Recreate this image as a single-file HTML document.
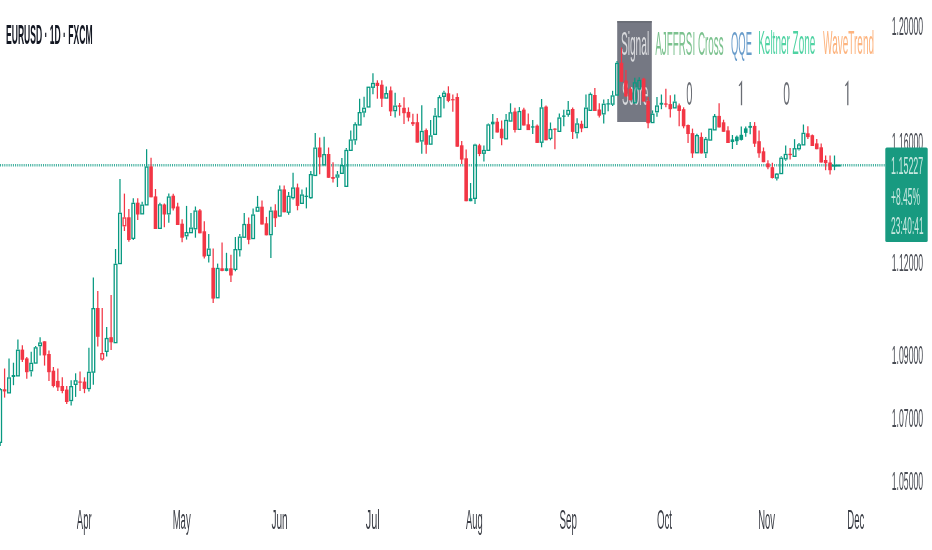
<!DOCTYPE html>
<html><head><meta charset="utf-8"><style>
html,body{margin:0;padding:0;background:#fff;width:932px;height:550px;overflow:hidden}
svg{display:block;filter:blur(0.3px)} text{will-change:transform}
</style></head><body>
<svg width="932" height="550" viewBox="0 0 932 550">
<rect width="932" height="550" fill="#ffffff"/>
<line x1="0" y1="165.3" x2="885" y2="165.3" stroke="#089981" stroke-width="2.4" stroke-opacity="0.78" stroke-dasharray="1.05 1.1"/>
<rect x="617.2" y="21.2" width="34.6" height="100.8" fill="#757883"/>
<rect x="617.2" y="21.2" width="34.6" height="1.3" fill="#62656e"/>
<g font-family="Liberation Sans, sans-serif"><text transform="translate(620.89,54.80) scale(0.3061,1)" font-size="33.29" font-weight="normal" fill="#d9dadd">Signal</text>
<text transform="translate(622.00,105.30) scale(0.3056,1)" font-size="32.86" font-weight="normal" fill="#d9dadd">Score</text></g>
<line x1="0.16" y1="388.00" x2="0.16" y2="389.00" stroke="#089981" stroke-width="1.25"/>
<line x1="0.16" y1="443.00" x2="0.16" y2="446.00" stroke="#089981" stroke-width="1.25"/>
<rect x="-1.19" y="389.65" width="2.70" height="52.70" fill="none" stroke="#089981" stroke-width="1.3"/>
<line x1="4.59" y1="368.50" x2="4.59" y2="397.60" stroke="#f23645" stroke-width="1.25"/>
<rect x="2.79" y="389.30" width="3.60" height="2.10" fill="#f23645"/>
<line x1="9.03" y1="358.40" x2="9.03" y2="377.30" stroke="#089981" stroke-width="1.25"/>
<rect x="7.68" y="377.95" width="2.70" height="14.90" fill="none" stroke="#089981" stroke-width="1.3"/>
<line x1="13.47" y1="362.70" x2="13.47" y2="385.20" stroke="#089981" stroke-width="1.25"/>
<rect x="11.67" y="375.00" width="3.60" height="2.00" fill="#089981"/>
<line x1="17.91" y1="339.50" x2="17.91" y2="349.60" stroke="#089981" stroke-width="1.25"/>
<rect x="16.56" y="350.25" width="2.70" height="25.60" fill="none" stroke="#089981" stroke-width="1.3"/>
<line x1="22.35" y1="345.30" x2="22.35" y2="362.00" stroke="#f23645" stroke-width="1.25"/>
<rect x="20.55" y="349.60" width="3.60" height="10.20" fill="#f23645"/>
<line x1="26.78" y1="356.90" x2="26.78" y2="378.70" stroke="#f23645" stroke-width="1.25"/>
<rect x="24.98" y="358.40" width="3.60" height="13.80" fill="#f23645"/>
<line x1="31.22" y1="351.80" x2="31.22" y2="362.70" stroke="#089981" stroke-width="1.25"/>
<line x1="31.22" y1="371.40" x2="31.22" y2="376.50" stroke="#089981" stroke-width="1.25"/>
<rect x="29.87" y="363.35" width="2.70" height="7.40" fill="none" stroke="#089981" stroke-width="1.3"/>
<line x1="35.66" y1="346.00" x2="35.66" y2="347.20" stroke="#089981" stroke-width="1.25"/>
<rect x="34.31" y="347.85" width="2.70" height="15.20" fill="none" stroke="#089981" stroke-width="1.3"/>
<line x1="40.10" y1="337.30" x2="40.10" y2="342.40" stroke="#089981" stroke-width="1.25"/>
<line x1="40.10" y1="346.30" x2="40.10" y2="355.40" stroke="#089981" stroke-width="1.25"/>
<rect x="38.75" y="343.05" width="2.70" height="2.60" fill="none" stroke="#089981" stroke-width="1.3"/>
<line x1="44.54" y1="341.30" x2="44.54" y2="365.60" stroke="#f23645" stroke-width="1.25"/>
<rect x="42.74" y="341.30" width="3.60" height="14.10" fill="#f23645"/>
<line x1="48.97" y1="350.40" x2="48.97" y2="380.90" stroke="#f23645" stroke-width="1.25"/>
<rect x="47.17" y="354.00" width="3.60" height="18.20" fill="#f23645"/>
<line x1="53.41" y1="367.00" x2="53.41" y2="387.40" stroke="#f23645" stroke-width="1.25"/>
<rect x="51.61" y="370.70" width="3.60" height="15.30" fill="#f23645"/>
<line x1="57.85" y1="368.50" x2="57.85" y2="391.00" stroke="#f23645" stroke-width="1.25"/>
<rect x="56.05" y="380.90" width="3.60" height="6.50" fill="#f23645"/>
<line x1="62.29" y1="377.30" x2="62.29" y2="393.20" stroke="#f23645" stroke-width="1.25"/>
<rect x="60.49" y="386.00" width="3.60" height="5.00" fill="#f23645"/>
<line x1="66.73" y1="386.00" x2="66.73" y2="404.00" stroke="#f23645" stroke-width="1.25"/>
<rect x="64.93" y="389.60" width="3.60" height="12.40" fill="#f23645"/>
<line x1="71.16" y1="380.20" x2="71.16" y2="386.00" stroke="#089981" stroke-width="1.25"/>
<line x1="71.16" y1="401.20" x2="71.16" y2="405.60" stroke="#089981" stroke-width="1.25"/>
<rect x="69.81" y="386.65" width="2.70" height="13.90" fill="none" stroke="#089981" stroke-width="1.3"/>
<line x1="75.60" y1="373.30" x2="75.60" y2="380.20" stroke="#089981" stroke-width="1.25"/>
<line x1="75.60" y1="385.00" x2="75.60" y2="396.90" stroke="#089981" stroke-width="1.25"/>
<rect x="74.25" y="380.85" width="2.70" height="3.50" fill="none" stroke="#089981" stroke-width="1.3"/>
<line x1="80.04" y1="371.40" x2="80.04" y2="391.00" stroke="#f23645" stroke-width="1.25"/>
<rect x="78.24" y="381.50" width="3.60" height="1.20" fill="#f23645"/>
<line x1="84.48" y1="377.30" x2="84.48" y2="393.20" stroke="#f23645" stroke-width="1.25"/>
<rect x="82.68" y="381.60" width="3.60" height="7.30" fill="#f23645"/>
<line x1="88.92" y1="347.70" x2="88.92" y2="371.70" stroke="#089981" stroke-width="1.25"/>
<line x1="88.92" y1="389.20" x2="88.92" y2="391.40" stroke="#089981" stroke-width="1.25"/>
<rect x="87.57" y="372.35" width="2.70" height="16.20" fill="none" stroke="#089981" stroke-width="1.3"/>
<line x1="93.35" y1="277.50" x2="93.35" y2="308.00" stroke="#089981" stroke-width="1.25"/>
<line x1="93.35" y1="372.80" x2="93.35" y2="384.80" stroke="#089981" stroke-width="1.25"/>
<rect x="92.00" y="308.65" width="2.70" height="63.50" fill="none" stroke="#089981" stroke-width="1.3"/>
<line x1="97.79" y1="291.00" x2="97.79" y2="346.60" stroke="#f23645" stroke-width="1.25"/>
<rect x="95.99" y="308.00" width="3.60" height="28.80" fill="#f23645"/>
<line x1="102.23" y1="308.00" x2="102.23" y2="353.00" stroke="#f23645" stroke-width="1.25"/>
<line x1="102.23" y1="359.70" x2="102.23" y2="360.80" stroke="#f23645" stroke-width="1.25"/>
<rect x="100.88" y="353.65" width="2.70" height="5.40" fill="none" stroke="#f23645" stroke-width="1.3"/>
<line x1="106.67" y1="327.00" x2="106.67" y2="337.90" stroke="#089981" stroke-width="1.25"/>
<line x1="106.67" y1="352.00" x2="106.67" y2="356.50" stroke="#089981" stroke-width="1.25"/>
<rect x="105.32" y="338.55" width="2.70" height="12.80" fill="none" stroke="#089981" stroke-width="1.3"/>
<line x1="111.11" y1="295.00" x2="111.11" y2="350.00" stroke="#f23645" stroke-width="1.25"/>
<rect x="109.31" y="337.20" width="3.60" height="5.10" fill="#f23645"/>
<line x1="115.54" y1="249.00" x2="115.54" y2="263.70" stroke="#089981" stroke-width="1.25"/>
<rect x="114.19" y="264.35" width="2.70" height="78.30" fill="none" stroke="#089981" stroke-width="1.3"/>
<line x1="119.98" y1="179.10" x2="119.98" y2="212.70" stroke="#089981" stroke-width="1.25"/>
<rect x="118.63" y="213.35" width="2.70" height="50.20" fill="none" stroke="#089981" stroke-width="1.3"/>
<line x1="124.42" y1="193.60" x2="124.42" y2="217.30" stroke="#f23645" stroke-width="1.25"/>
<line x1="124.42" y1="226.40" x2="124.42" y2="231.00" stroke="#f23645" stroke-width="1.25"/>
<rect x="123.07" y="217.95" width="2.70" height="7.80" fill="none" stroke="#f23645" stroke-width="1.3"/>
<line x1="128.86" y1="209.00" x2="128.86" y2="241.80" stroke="#f23645" stroke-width="1.25"/>
<rect x="127.06" y="217.30" width="3.60" height="22.70" fill="#f23645"/>
<line x1="133.30" y1="198.20" x2="133.30" y2="202.70" stroke="#089981" stroke-width="1.25"/>
<line x1="133.30" y1="239.00" x2="133.30" y2="240.00" stroke="#089981" stroke-width="1.25"/>
<rect x="131.95" y="203.35" width="2.70" height="35.00" fill="none" stroke="#089981" stroke-width="1.3"/>
<line x1="137.73" y1="198.20" x2="137.73" y2="220.00" stroke="#f23645" stroke-width="1.25"/>
<rect x="135.93" y="202.70" width="3.60" height="11.80" fill="#f23645"/>
<line x1="142.17" y1="201.80" x2="142.17" y2="204.50" stroke="#089981" stroke-width="1.25"/>
<rect x="140.82" y="205.15" width="2.70" height="8.70" fill="none" stroke="#089981" stroke-width="1.3"/>
<line x1="146.61" y1="149.20" x2="146.61" y2="166.40" stroke="#089981" stroke-width="1.25"/>
<rect x="145.26" y="167.05" width="2.70" height="37.80" fill="none" stroke="#089981" stroke-width="1.3"/>
<line x1="151.05" y1="157.80" x2="151.05" y2="197.30" stroke="#f23645" stroke-width="1.25"/>
<rect x="149.25" y="166.40" width="3.60" height="30.90" fill="#f23645"/>
<line x1="155.49" y1="189.00" x2="155.49" y2="229.00" stroke="#f23645" stroke-width="1.25"/>
<rect x="153.69" y="196.40" width="3.60" height="32.60" fill="#f23645"/>
<line x1="159.92" y1="202.70" x2="159.92" y2="204.20" stroke="#089981" stroke-width="1.25"/>
<rect x="158.57" y="204.85" width="2.70" height="23.50" fill="none" stroke="#089981" stroke-width="1.3"/>
<line x1="164.36" y1="203.60" x2="164.36" y2="227.30" stroke="#f23645" stroke-width="1.25"/>
<rect x="162.56" y="204.50" width="3.60" height="10.00" fill="#f23645"/>
<line x1="168.80" y1="193.60" x2="168.80" y2="196.40" stroke="#089981" stroke-width="1.25"/>
<line x1="168.80" y1="214.50" x2="168.80" y2="222.70" stroke="#089981" stroke-width="1.25"/>
<rect x="167.45" y="197.05" width="2.70" height="16.80" fill="none" stroke="#089981" stroke-width="1.3"/>
<line x1="173.24" y1="193.80" x2="173.24" y2="210.40" stroke="#f23645" stroke-width="1.25"/>
<rect x="171.44" y="195.70" width="3.60" height="12.70" fill="#f23645"/>
<line x1="177.68" y1="202.70" x2="177.68" y2="225.00" stroke="#f23645" stroke-width="1.25"/>
<rect x="175.88" y="206.50" width="3.60" height="18.50" fill="#f23645"/>
<line x1="182.11" y1="219.30" x2="182.11" y2="242.20" stroke="#f23645" stroke-width="1.25"/>
<rect x="180.31" y="223.70" width="3.60" height="14.00" fill="#f23645"/>
<line x1="186.55" y1="205.90" x2="186.55" y2="232.00" stroke="#089981" stroke-width="1.25"/>
<line x1="186.55" y1="236.40" x2="186.55" y2="239.60" stroke="#089981" stroke-width="1.25"/>
<rect x="185.20" y="232.65" width="2.70" height="3.10" fill="none" stroke="#089981" stroke-width="1.3"/>
<line x1="190.99" y1="212.90" x2="190.99" y2="227.50" stroke="#089981" stroke-width="1.25"/>
<rect x="189.64" y="228.15" width="2.70" height="4.50" fill="none" stroke="#089981" stroke-width="1.3"/>
<line x1="195.43" y1="206.50" x2="195.43" y2="210.40" stroke="#089981" stroke-width="1.25"/>
<line x1="195.43" y1="229.40" x2="195.43" y2="237.70" stroke="#089981" stroke-width="1.25"/>
<rect x="194.08" y="211.05" width="2.70" height="17.70" fill="none" stroke="#089981" stroke-width="1.3"/>
<line x1="199.87" y1="209.00" x2="199.87" y2="233.30" stroke="#f23645" stroke-width="1.25"/>
<rect x="198.07" y="210.40" width="3.60" height="22.90" fill="#f23645"/>
<line x1="204.30" y1="221.20" x2="204.30" y2="258.60" stroke="#f23645" stroke-width="1.25"/>
<rect x="202.50" y="231.30" width="3.60" height="25.20" fill="#f23645"/>
<line x1="208.74" y1="233.90" x2="208.74" y2="248.50" stroke="#089981" stroke-width="1.25"/>
<line x1="208.74" y1="256.00" x2="208.74" y2="262.40" stroke="#089981" stroke-width="1.25"/>
<rect x="207.39" y="249.15" width="2.70" height="6.20" fill="none" stroke="#089981" stroke-width="1.3"/>
<line x1="213.18" y1="248.40" x2="213.18" y2="303.00" stroke="#f23645" stroke-width="1.25"/>
<rect x="211.38" y="267.80" width="3.60" height="30.80" fill="#f23645"/>
<line x1="217.62" y1="263.60" x2="217.62" y2="267.80" stroke="#089981" stroke-width="1.25"/>
<rect x="216.27" y="268.45" width="2.70" height="29.30" fill="none" stroke="#089981" stroke-width="1.3"/>
<line x1="222.06" y1="242.60" x2="222.06" y2="271.30" stroke="#f23645" stroke-width="1.25"/>
<rect x="220.26" y="268.30" width="3.60" height="2.60" fill="#f23645"/>
<line x1="226.49" y1="252.80" x2="226.49" y2="271.30" stroke="#089981" stroke-width="1.25"/>
<rect x="224.69" y="268.30" width="3.60" height="2.60" fill="#089981"/>
<line x1="230.93" y1="254.70" x2="230.93" y2="282.00" stroke="#f23645" stroke-width="1.25"/>
<rect x="229.13" y="268.30" width="3.60" height="7.20" fill="#f23645"/>
<line x1="235.37" y1="237.00" x2="235.37" y2="249.00" stroke="#089981" stroke-width="1.25"/>
<line x1="235.37" y1="270.00" x2="235.37" y2="271.30" stroke="#089981" stroke-width="1.25"/>
<rect x="234.02" y="249.65" width="2.70" height="19.70" fill="none" stroke="#089981" stroke-width="1.3"/>
<line x1="239.81" y1="234.00" x2="239.81" y2="236.50" stroke="#089981" stroke-width="1.25"/>
<line x1="239.81" y1="250.30" x2="239.81" y2="256.60" stroke="#089981" stroke-width="1.25"/>
<rect x="238.46" y="237.15" width="2.70" height="12.50" fill="none" stroke="#089981" stroke-width="1.3"/>
<line x1="244.25" y1="213.00" x2="244.25" y2="223.90" stroke="#089981" stroke-width="1.25"/>
<rect x="242.90" y="224.55" width="2.70" height="12.70" fill="none" stroke="#089981" stroke-width="1.3"/>
<line x1="248.68" y1="217.50" x2="248.68" y2="244.20" stroke="#f23645" stroke-width="1.25"/>
<rect x="246.88" y="223.90" width="3.60" height="15.90" fill="#f23645"/>
<line x1="253.12" y1="208.60" x2="253.12" y2="214.40" stroke="#089981" stroke-width="1.25"/>
<rect x="251.77" y="215.05" width="2.70" height="23.50" fill="none" stroke="#089981" stroke-width="1.3"/>
<line x1="257.56" y1="195.90" x2="257.56" y2="206.70" stroke="#089981" stroke-width="1.25"/>
<rect x="256.21" y="207.35" width="2.70" height="3.80" fill="none" stroke="#089981" stroke-width="1.3"/>
<line x1="262.00" y1="200.40" x2="262.00" y2="224.50" stroke="#f23645" stroke-width="1.25"/>
<rect x="260.20" y="206.70" width="3.60" height="17.80" fill="#f23645"/>
<line x1="266.44" y1="216.90" x2="266.44" y2="235.30" stroke="#f23645" stroke-width="1.25"/>
<rect x="264.64" y="223.30" width="3.60" height="12.00" fill="#f23645"/>
<line x1="270.87" y1="206.70" x2="270.87" y2="210.50" stroke="#089981" stroke-width="1.25"/>
<line x1="270.87" y1="235.30" x2="270.87" y2="258.00" stroke="#089981" stroke-width="1.25"/>
<rect x="269.52" y="211.15" width="2.70" height="23.50" fill="none" stroke="#089981" stroke-width="1.3"/>
<line x1="275.31" y1="204.20" x2="275.31" y2="227.00" stroke="#f23645" stroke-width="1.25"/>
<rect x="273.51" y="210.50" width="3.60" height="7.70" fill="#f23645"/>
<line x1="279.75" y1="185.50" x2="279.75" y2="189.40" stroke="#089981" stroke-width="1.25"/>
<rect x="278.40" y="190.05" width="2.70" height="26.00" fill="none" stroke="#089981" stroke-width="1.3"/>
<line x1="284.19" y1="185.50" x2="284.19" y2="212.30" stroke="#f23645" stroke-width="1.25"/>
<rect x="282.39" y="189.40" width="3.60" height="22.90" fill="#f23645"/>
<line x1="288.63" y1="191.90" x2="288.63" y2="195.70" stroke="#089981" stroke-width="1.25"/>
<line x1="288.63" y1="212.90" x2="288.63" y2="214.80" stroke="#089981" stroke-width="1.25"/>
<rect x="287.28" y="196.35" width="2.70" height="15.90" fill="none" stroke="#089981" stroke-width="1.3"/>
<line x1="293.06" y1="172.80" x2="293.06" y2="187.40" stroke="#089981" stroke-width="1.25"/>
<line x1="293.06" y1="198.30" x2="293.06" y2="199.50" stroke="#089981" stroke-width="1.25"/>
<rect x="291.71" y="188.05" width="2.70" height="9.60" fill="none" stroke="#089981" stroke-width="1.3"/>
<line x1="297.50" y1="183.60" x2="297.50" y2="210.30" stroke="#f23645" stroke-width="1.25"/>
<rect x="295.70" y="187.40" width="3.60" height="18.50" fill="#f23645"/>
<line x1="301.94" y1="189.40" x2="301.94" y2="194.40" stroke="#089981" stroke-width="1.25"/>
<rect x="300.59" y="195.05" width="2.70" height="8.30" fill="none" stroke="#089981" stroke-width="1.3"/>
<line x1="306.38" y1="187.40" x2="306.38" y2="208.40" stroke="#089981" stroke-width="1.25"/>
<rect x="304.58" y="195.70" width="3.60" height="1.30" fill="#089981"/>
<line x1="310.82" y1="170.90" x2="310.82" y2="174.00" stroke="#089981" stroke-width="1.25"/>
<line x1="310.82" y1="198.30" x2="310.82" y2="198.90" stroke="#089981" stroke-width="1.25"/>
<rect x="309.47" y="174.65" width="2.70" height="23.00" fill="none" stroke="#089981" stroke-width="1.3"/>
<line x1="315.25" y1="132.90" x2="315.25" y2="147.50" stroke="#089981" stroke-width="1.25"/>
<rect x="313.90" y="148.15" width="2.70" height="27.30" fill="none" stroke="#089981" stroke-width="1.3"/>
<line x1="319.69" y1="137.40" x2="319.69" y2="174.30" stroke="#f23645" stroke-width="1.25"/>
<rect x="317.89" y="147.50" width="3.60" height="9.80" fill="#f23645"/>
<line x1="324.13" y1="136.70" x2="324.13" y2="154.00" stroke="#089981" stroke-width="1.25"/>
<rect x="322.78" y="154.65" width="2.70" height="10.20" fill="none" stroke="#089981" stroke-width="1.3"/>
<line x1="328.57" y1="147.50" x2="328.57" y2="177.80" stroke="#f23645" stroke-width="1.25"/>
<rect x="326.77" y="154.00" width="3.60" height="23.80" fill="#f23645"/>
<line x1="333.01" y1="162.30" x2="333.01" y2="182.60" stroke="#f23645" stroke-width="1.25"/>
<rect x="331.21" y="177.00" width="3.60" height="1.80" fill="#f23645"/>
<line x1="337.44" y1="171.00" x2="337.44" y2="174.40" stroke="#089981" stroke-width="1.25"/>
<line x1="337.44" y1="177.70" x2="337.44" y2="187.00" stroke="#089981" stroke-width="1.25"/>
<rect x="336.09" y="175.05" width="2.70" height="2.00" fill="none" stroke="#089981" stroke-width="1.3"/>
<line x1="341.88" y1="158.00" x2="341.88" y2="165.00" stroke="#089981" stroke-width="1.25"/>
<rect x="340.53" y="165.65" width="2.70" height="7.70" fill="none" stroke="#089981" stroke-width="1.3"/>
<line x1="346.32" y1="148.00" x2="346.32" y2="149.80" stroke="#089981" stroke-width="1.25"/>
<rect x="344.97" y="150.45" width="2.70" height="35.90" fill="none" stroke="#089981" stroke-width="1.3"/>
<line x1="350.76" y1="130.60" x2="350.76" y2="139.40" stroke="#089981" stroke-width="1.25"/>
<rect x="349.41" y="140.05" width="2.70" height="10.30" fill="none" stroke="#089981" stroke-width="1.3"/>
<line x1="355.20" y1="122.30" x2="355.20" y2="124.10" stroke="#089981" stroke-width="1.25"/>
<line x1="355.20" y1="140.50" x2="355.20" y2="144.80" stroke="#089981" stroke-width="1.25"/>
<rect x="353.85" y="124.75" width="2.70" height="15.10" fill="none" stroke="#089981" stroke-width="1.3"/>
<line x1="359.63" y1="98.70" x2="359.63" y2="112.00" stroke="#089981" stroke-width="1.25"/>
<rect x="358.28" y="112.65" width="2.70" height="12.30" fill="none" stroke="#089981" stroke-width="1.3"/>
<line x1="364.07" y1="96.80" x2="364.07" y2="107.60" stroke="#089981" stroke-width="1.25"/>
<line x1="364.07" y1="112.70" x2="364.07" y2="117.20" stroke="#089981" stroke-width="1.25"/>
<rect x="362.72" y="108.25" width="2.70" height="3.80" fill="none" stroke="#089981" stroke-width="1.3"/>
<rect x="367.16" y="87.25" width="2.70" height="19.70" fill="none" stroke="#089981" stroke-width="1.3"/>
<line x1="372.95" y1="73.30" x2="372.95" y2="82.80" stroke="#089981" stroke-width="1.25"/>
<line x1="372.95" y1="87.90" x2="372.95" y2="94.30" stroke="#089981" stroke-width="1.25"/>
<rect x="371.60" y="83.45" width="2.70" height="3.80" fill="none" stroke="#089981" stroke-width="1.3"/>
<line x1="377.39" y1="80.30" x2="377.39" y2="98.70" stroke="#f23645" stroke-width="1.25"/>
<rect x="375.59" y="82.80" width="3.60" height="3.20" fill="#f23645"/>
<line x1="381.82" y1="80.30" x2="381.82" y2="107.00" stroke="#f23645" stroke-width="1.25"/>
<rect x="380.02" y="84.70" width="3.60" height="14.00" fill="#f23645"/>
<line x1="386.26" y1="86.60" x2="386.26" y2="93.00" stroke="#089981" stroke-width="1.25"/>
<rect x="384.91" y="93.65" width="2.70" height="4.40" fill="none" stroke="#089981" stroke-width="1.3"/>
<line x1="390.70" y1="86.60" x2="390.70" y2="115.90" stroke="#f23645" stroke-width="1.25"/>
<rect x="388.90" y="90.40" width="3.60" height="21.00" fill="#f23645"/>
<line x1="395.14" y1="92.80" x2="395.14" y2="105.50" stroke="#089981" stroke-width="1.25"/>
<line x1="395.14" y1="111.30" x2="395.14" y2="117.60" stroke="#089981" stroke-width="1.25"/>
<rect x="393.79" y="106.15" width="2.70" height="4.50" fill="none" stroke="#089981" stroke-width="1.3"/>
<line x1="399.58" y1="103.00" x2="399.58" y2="115.70" stroke="#f23645" stroke-width="1.25"/>
<rect x="397.78" y="105.30" width="3.60" height="1.50" fill="#f23645"/>
<line x1="404.01" y1="97.30" x2="404.01" y2="124.00" stroke="#f23645" stroke-width="1.25"/>
<rect x="402.21" y="107.80" width="3.60" height="5.40" fill="#f23645"/>
<line x1="408.45" y1="107.40" x2="408.45" y2="121.40" stroke="#f23645" stroke-width="1.25"/>
<rect x="406.65" y="111.90" width="3.60" height="5.70" fill="#f23645"/>
<line x1="412.89" y1="113.70" x2="412.89" y2="126.10" stroke="#f23645" stroke-width="1.25"/>
<rect x="411.09" y="122.10" width="3.60" height="2.10" fill="#f23645"/>
<line x1="417.33" y1="113.70" x2="417.33" y2="142.60" stroke="#f23645" stroke-width="1.25"/>
<rect x="415.53" y="122.20" width="3.60" height="20.40" fill="#f23645"/>
<line x1="421.77" y1="105.20" x2="421.77" y2="130.80" stroke="#089981" stroke-width="1.25"/>
<line x1="421.77" y1="141.60" x2="421.77" y2="153.70" stroke="#089981" stroke-width="1.25"/>
<rect x="420.42" y="131.45" width="2.70" height="9.50" fill="none" stroke="#089981" stroke-width="1.3"/>
<line x1="426.20" y1="128.60" x2="426.20" y2="153.70" stroke="#f23645" stroke-width="1.25"/>
<rect x="424.40" y="130.10" width="3.60" height="14.70" fill="#f23645"/>
<line x1="430.64" y1="120.10" x2="430.64" y2="135.30" stroke="#089981" stroke-width="1.25"/>
<rect x="429.29" y="135.95" width="2.70" height="8.20" fill="none" stroke="#089981" stroke-width="1.3"/>
<line x1="435.08" y1="108.00" x2="435.08" y2="115.60" stroke="#089981" stroke-width="1.25"/>
<rect x="433.73" y="116.25" width="2.70" height="18.10" fill="none" stroke="#089981" stroke-width="1.3"/>
<line x1="439.52" y1="95.20" x2="439.52" y2="97.00" stroke="#089981" stroke-width="1.25"/>
<rect x="438.17" y="97.65" width="2.70" height="19.10" fill="none" stroke="#089981" stroke-width="1.3"/>
<line x1="443.96" y1="90.70" x2="443.96" y2="92.60" stroke="#089981" stroke-width="1.25"/>
<line x1="443.96" y1="97.00" x2="443.96" y2="108.50" stroke="#089981" stroke-width="1.25"/>
<rect x="442.61" y="93.25" width="2.70" height="3.10" fill="none" stroke="#089981" stroke-width="1.3"/>
<line x1="448.39" y1="86.30" x2="448.39" y2="102.20" stroke="#f23645" stroke-width="1.25"/>
<rect x="446.59" y="93.30" width="3.60" height="7.60" fill="#f23645"/>
<line x1="452.83" y1="94.50" x2="452.83" y2="111.70" stroke="#f23645" stroke-width="1.25"/>
<rect x="451.03" y="99.15" width="3.60" height="1.20" fill="#f23645"/>
<line x1="457.27" y1="93.30" x2="457.27" y2="146.70" stroke="#f23645" stroke-width="1.25"/>
<rect x="455.47" y="97.00" width="3.60" height="49.70" fill="#f23645"/>
<line x1="461.71" y1="140.90" x2="461.71" y2="164.00" stroke="#f23645" stroke-width="1.25"/>
<rect x="459.91" y="145.30" width="3.60" height="14.30" fill="#f23645"/>
<line x1="466.15" y1="149.60" x2="466.15" y2="201.20" stroke="#f23645" stroke-width="1.25"/>
<rect x="464.35" y="158.30" width="3.60" height="42.90" fill="#f23645"/>
<line x1="470.58" y1="183.00" x2="470.58" y2="201.20" stroke="#089981" stroke-width="1.25"/>
<rect x="468.78" y="198.30" width="3.60" height="2.90" fill="#089981"/>
<line x1="475.02" y1="143.80" x2="475.02" y2="144.50" stroke="#089981" stroke-width="1.25"/>
<line x1="475.02" y1="199.00" x2="475.02" y2="204.00" stroke="#089981" stroke-width="1.25"/>
<rect x="473.67" y="145.15" width="2.70" height="53.20" fill="none" stroke="#089981" stroke-width="1.3"/>
<line x1="479.46" y1="143.80" x2="479.46" y2="156.20" stroke="#f23645" stroke-width="1.25"/>
<rect x="477.66" y="145.30" width="3.60" height="8.70" fill="#f23645"/>
<line x1="483.90" y1="145.60" x2="483.90" y2="149.90" stroke="#089981" stroke-width="1.25"/>
<line x1="483.90" y1="153.90" x2="483.90" y2="161.50" stroke="#089981" stroke-width="1.25"/>
<rect x="482.55" y="150.55" width="2.70" height="2.70" fill="none" stroke="#089981" stroke-width="1.3"/>
<line x1="488.34" y1="123.60" x2="488.34" y2="124.30" stroke="#089981" stroke-width="1.25"/>
<rect x="486.99" y="124.95" width="2.70" height="25.40" fill="none" stroke="#089981" stroke-width="1.3"/>
<line x1="492.77" y1="114.10" x2="492.77" y2="138.90" stroke="#089981" stroke-width="1.25"/>
<rect x="490.97" y="121.70" width="3.60" height="2.60" fill="#089981"/>
<line x1="497.21" y1="117.90" x2="497.21" y2="132.50" stroke="#f23645" stroke-width="1.25"/>
<rect x="495.41" y="121.70" width="3.60" height="10.80" fill="#f23645"/>
<line x1="501.65" y1="120.40" x2="501.65" y2="145.30" stroke="#f23645" stroke-width="1.25"/>
<rect x="499.85" y="128.70" width="3.60" height="9.60" fill="#f23645"/>
<line x1="506.09" y1="114.10" x2="506.09" y2="119.80" stroke="#089981" stroke-width="1.25"/>
<rect x="504.74" y="120.45" width="2.70" height="18.40" fill="none" stroke="#089981" stroke-width="1.3"/>
<line x1="510.53" y1="103.30" x2="510.53" y2="112.20" stroke="#089981" stroke-width="1.25"/>
<rect x="509.18" y="112.85" width="2.70" height="8.20" fill="none" stroke="#089981" stroke-width="1.3"/>
<line x1="514.96" y1="107.70" x2="514.96" y2="132.50" stroke="#f23645" stroke-width="1.25"/>
<rect x="513.16" y="111.50" width="3.60" height="18.50" fill="#f23645"/>
<line x1="519.40" y1="107.10" x2="519.40" y2="110.90" stroke="#089981" stroke-width="1.25"/>
<rect x="518.05" y="111.55" width="2.70" height="17.80" fill="none" stroke="#089981" stroke-width="1.3"/>
<line x1="523.84" y1="107.70" x2="523.84" y2="125.50" stroke="#f23645" stroke-width="1.25"/>
<rect x="522.04" y="109.60" width="3.60" height="15.90" fill="#f23645"/>
<line x1="528.28" y1="113.50" x2="528.28" y2="130.10" stroke="#f23645" stroke-width="1.25"/>
<rect x="526.48" y="124.30" width="3.60" height="5.80" fill="#f23645"/>
<line x1="532.72" y1="120.00" x2="532.72" y2="134.00" stroke="#089981" stroke-width="1.25"/>
<rect x="530.92" y="126.30" width="3.60" height="1.30" fill="#089981"/>
<line x1="537.15" y1="124.40" x2="537.15" y2="142.90" stroke="#f23645" stroke-width="1.25"/>
<rect x="535.35" y="125.70" width="3.60" height="17.20" fill="#f23645"/>
<line x1="541.59" y1="99.00" x2="541.59" y2="107.30" stroke="#089981" stroke-width="1.25"/>
<line x1="541.59" y1="142.90" x2="541.59" y2="147.30" stroke="#089981" stroke-width="1.25"/>
<rect x="540.24" y="107.95" width="2.70" height="34.30" fill="none" stroke="#089981" stroke-width="1.3"/>
<line x1="546.03" y1="105.40" x2="546.03" y2="140.30" stroke="#f23645" stroke-width="1.25"/>
<rect x="544.23" y="106.60" width="3.60" height="33.70" fill="#f23645"/>
<line x1="550.47" y1="122.50" x2="550.47" y2="128.90" stroke="#089981" stroke-width="1.25"/>
<line x1="550.47" y1="139.00" x2="550.47" y2="140.30" stroke="#089981" stroke-width="1.25"/>
<rect x="549.12" y="129.55" width="2.70" height="8.80" fill="none" stroke="#089981" stroke-width="1.3"/>
<line x1="554.91" y1="128.30" x2="554.91" y2="149.20" stroke="#f23645" stroke-width="1.25"/>
<rect x="553.11" y="128.60" width="3.60" height="1.20" fill="#f23645"/>
<line x1="559.34" y1="113.60" x2="559.34" y2="117.40" stroke="#089981" stroke-width="1.25"/>
<rect x="557.99" y="118.05" width="2.70" height="13.30" fill="none" stroke="#089981" stroke-width="1.3"/>
<line x1="563.78" y1="109.80" x2="563.78" y2="126.30" stroke="#089981" stroke-width="1.25"/>
<rect x="561.98" y="115.50" width="3.60" height="1.30" fill="#089981"/>
<line x1="568.22" y1="100.90" x2="568.22" y2="109.80" stroke="#089981" stroke-width="1.25"/>
<line x1="568.22" y1="114.90" x2="568.22" y2="116.80" stroke="#089981" stroke-width="1.25"/>
<rect x="566.87" y="110.45" width="2.70" height="3.80" fill="none" stroke="#089981" stroke-width="1.3"/>
<line x1="572.66" y1="107.50" x2="572.66" y2="138.90" stroke="#f23645" stroke-width="1.25"/>
<rect x="570.86" y="109.00" width="3.60" height="22.90" fill="#f23645"/>
<line x1="577.10" y1="118.20" x2="577.10" y2="123.30" stroke="#089981" stroke-width="1.25"/>
<line x1="577.10" y1="133.40" x2="577.10" y2="138.50" stroke="#089981" stroke-width="1.25"/>
<rect x="575.75" y="123.95" width="2.70" height="8.80" fill="none" stroke="#089981" stroke-width="1.3"/>
<line x1="581.53" y1="120.70" x2="581.53" y2="132.20" stroke="#f23645" stroke-width="1.25"/>
<rect x="579.73" y="123.80" width="3.60" height="4.70" fill="#f23645"/>
<line x1="585.97" y1="94.40" x2="585.97" y2="107.50" stroke="#089981" stroke-width="1.25"/>
<rect x="584.62" y="108.15" width="2.70" height="19.30" fill="none" stroke="#089981" stroke-width="1.3"/>
<line x1="590.41" y1="92.50" x2="590.41" y2="93.80" stroke="#089981" stroke-width="1.25"/>
<rect x="589.06" y="94.45" width="2.70" height="15.90" fill="none" stroke="#089981" stroke-width="1.3"/>
<line x1="594.85" y1="88.00" x2="594.85" y2="111.00" stroke="#f23645" stroke-width="1.25"/>
<rect x="593.05" y="95.00" width="3.60" height="16.00" fill="#f23645"/>
<line x1="599.29" y1="103.30" x2="599.29" y2="117.60" stroke="#f23645" stroke-width="1.25"/>
<rect x="597.49" y="109.50" width="3.60" height="6.20" fill="#f23645"/>
<line x1="603.72" y1="99.50" x2="603.72" y2="103.60" stroke="#089981" stroke-width="1.25"/>
<line x1="603.72" y1="114.50" x2="603.72" y2="123.60" stroke="#089981" stroke-width="1.25"/>
<rect x="602.37" y="104.25" width="2.70" height="9.60" fill="none" stroke="#089981" stroke-width="1.3"/>
<line x1="608.16" y1="98.90" x2="608.16" y2="111.30" stroke="#089981" stroke-width="1.25"/>
<rect x="606.36" y="103.30" width="3.60" height="1.20" fill="#089981"/>
<line x1="612.60" y1="90.80" x2="612.60" y2="95.30" stroke="#089981" stroke-width="1.25"/>
<line x1="612.60" y1="104.80" x2="612.60" y2="106.00" stroke="#089981" stroke-width="1.25"/>
<rect x="611.25" y="95.95" width="2.70" height="8.20" fill="none" stroke="#089981" stroke-width="1.3"/>
<line x1="617.04" y1="60.90" x2="617.04" y2="62.80" stroke="#089981" stroke-width="1.25"/>
<rect x="615.69" y="63.45" width="2.70" height="31.60" fill="none" stroke="#089981" stroke-width="1.3"/>
<line x1="621.48" y1="47.50" x2="621.48" y2="81.80" stroke="#f23645" stroke-width="1.25"/>
<rect x="619.68" y="62.80" width="3.60" height="19.00" fill="#f23645"/>
<line x1="625.91" y1="70.00" x2="625.91" y2="96.50" stroke="#f23645" stroke-width="1.25"/>
<rect x="624.11" y="80.50" width="3.60" height="16.00" fill="#f23645"/>
<line x1="630.35" y1="87.10" x2="630.35" y2="100.20" stroke="#f23645" stroke-width="1.25"/>
<rect x="628.55" y="88.80" width="3.60" height="11.40" fill="#f23645"/>
<line x1="634.79" y1="77.70" x2="634.79" y2="82.20" stroke="#089981" stroke-width="1.25"/>
<rect x="633.44" y="82.85" width="2.70" height="20.00" fill="none" stroke="#089981" stroke-width="1.3"/>
<line x1="639.23" y1="77.30" x2="639.23" y2="79.80" stroke="#089981" stroke-width="1.25"/>
<rect x="637.88" y="80.45" width="2.70" height="8.50" fill="none" stroke="#089981" stroke-width="1.3"/>
<line x1="643.67" y1="77.70" x2="643.67" y2="101.50" stroke="#f23645" stroke-width="1.25"/>
<rect x="641.87" y="78.70" width="3.60" height="22.80" fill="#f23645"/>
<line x1="648.10" y1="97.10" x2="648.10" y2="128.30" stroke="#f23645" stroke-width="1.25"/>
<rect x="646.30" y="100.90" width="3.60" height="22.30" fill="#f23645"/>
<line x1="652.54" y1="110.40" x2="652.54" y2="113.60" stroke="#089981" stroke-width="1.25"/>
<rect x="651.19" y="114.25" width="2.70" height="8.30" fill="none" stroke="#089981" stroke-width="1.3"/>
<line x1="656.98" y1="97.10" x2="656.98" y2="105.40" stroke="#089981" stroke-width="1.25"/>
<line x1="656.98" y1="112.40" x2="656.98" y2="116.80" stroke="#089981" stroke-width="1.25"/>
<rect x="655.63" y="106.05" width="2.70" height="5.70" fill="none" stroke="#089981" stroke-width="1.3"/>
<line x1="661.42" y1="94.50" x2="661.42" y2="109.20" stroke="#089981" stroke-width="1.25"/>
<rect x="659.62" y="102.80" width="3.60" height="1.90" fill="#089981"/>
<line x1="665.86" y1="88.80" x2="665.86" y2="107.30" stroke="#f23645" stroke-width="1.25"/>
<rect x="664.06" y="103.40" width="3.60" height="1.30" fill="#f23645"/>
<line x1="670.29" y1="95.20" x2="670.29" y2="117.40" stroke="#f23645" stroke-width="1.25"/>
<rect x="668.49" y="104.10" width="3.60" height="5.10" fill="#f23645"/>
<line x1="674.73" y1="94.50" x2="674.73" y2="101.50" stroke="#089981" stroke-width="1.25"/>
<rect x="673.38" y="102.15" width="2.70" height="5.70" fill="none" stroke="#089981" stroke-width="1.3"/>
<line x1="679.17" y1="103.40" x2="679.17" y2="126.30" stroke="#f23645" stroke-width="1.25"/>
<rect x="677.37" y="105.40" width="3.60" height="5.60" fill="#f23645"/>
<line x1="683.61" y1="107.30" x2="683.61" y2="128.30" stroke="#f23645" stroke-width="1.25"/>
<rect x="681.81" y="109.20" width="3.60" height="17.10" fill="#f23645"/>
<line x1="688.05" y1="124.40" x2="688.05" y2="142.90" stroke="#f23645" stroke-width="1.25"/>
<rect x="686.25" y="125.00" width="3.60" height="9.00" fill="#f23645"/>
<line x1="692.48" y1="128.60" x2="692.48" y2="157.90" stroke="#f23645" stroke-width="1.25"/>
<rect x="690.68" y="133.10" width="3.60" height="20.30" fill="#f23645"/>
<line x1="696.92" y1="133.70" x2="696.92" y2="135.00" stroke="#089981" stroke-width="1.25"/>
<rect x="695.57" y="135.65" width="2.70" height="17.10" fill="none" stroke="#089981" stroke-width="1.3"/>
<line x1="701.36" y1="132.40" x2="701.36" y2="153.40" stroke="#f23645" stroke-width="1.25"/>
<rect x="699.56" y="136.90" width="3.60" height="16.50" fill="#f23645"/>
<line x1="705.80" y1="136.90" x2="705.80" y2="138.80" stroke="#089981" stroke-width="1.25"/>
<line x1="705.80" y1="153.40" x2="705.80" y2="157.90" stroke="#089981" stroke-width="1.25"/>
<rect x="704.45" y="139.45" width="2.70" height="13.30" fill="none" stroke="#089981" stroke-width="1.3"/>
<rect x="708.89" y="129.25" width="2.70" height="10.80" fill="none" stroke="#089981" stroke-width="1.3"/>
<line x1="714.67" y1="114.00" x2="714.67" y2="115.90" stroke="#089981" stroke-width="1.25"/>
<rect x="713.32" y="116.55" width="2.70" height="13.30" fill="none" stroke="#089981" stroke-width="1.3"/>
<line x1="719.11" y1="103.20" x2="719.11" y2="127.40" stroke="#f23645" stroke-width="1.25"/>
<rect x="717.31" y="115.90" width="3.60" height="11.50" fill="#f23645"/>
<line x1="723.55" y1="119.70" x2="723.55" y2="131.80" stroke="#f23645" stroke-width="1.25"/>
<rect x="721.75" y="122.30" width="3.60" height="9.50" fill="#f23645"/>
<line x1="727.99" y1="126.30" x2="727.99" y2="143.00" stroke="#f23645" stroke-width="1.25"/>
<rect x="726.19" y="130.40" width="3.60" height="12.60" fill="#f23645"/>
<line x1="732.43" y1="135.00" x2="732.43" y2="149.00" stroke="#089981" stroke-width="1.25"/>
<rect x="730.63" y="139.40" width="3.60" height="2.60" fill="#089981"/>
<line x1="736.86" y1="135.40" x2="736.86" y2="145.00" stroke="#089981" stroke-width="1.25"/>
<rect x="735.06" y="136.70" width="3.60" height="4.50" fill="#089981"/>
<line x1="741.30" y1="126.50" x2="741.30" y2="140.50" stroke="#089981" stroke-width="1.25"/>
<rect x="739.50" y="134.80" width="3.60" height="5.10" fill="#089981"/>
<line x1="745.74" y1="126.50" x2="745.74" y2="136.70" stroke="#089981" stroke-width="1.25"/>
<rect x="743.94" y="128.40" width="3.60" height="4.50" fill="#089981"/>
<line x1="750.18" y1="122.10" x2="750.18" y2="134.20" stroke="#089981" stroke-width="1.25"/>
<rect x="748.38" y="125.90" width="3.60" height="1.90" fill="#089981"/>
<line x1="754.62" y1="122.10" x2="754.62" y2="146.90" stroke="#f23645" stroke-width="1.25"/>
<rect x="752.82" y="125.90" width="3.60" height="17.80" fill="#f23645"/>
<line x1="759.05" y1="130.40" x2="759.05" y2="157.70" stroke="#f23645" stroke-width="1.25"/>
<rect x="757.25" y="141.20" width="3.60" height="12.10" fill="#f23645"/>
<line x1="763.49" y1="147.50" x2="763.49" y2="162.20" stroke="#f23645" stroke-width="1.25"/>
<rect x="761.69" y="151.30" width="3.60" height="10.90" fill="#f23645"/>
<line x1="767.93" y1="160.30" x2="767.93" y2="169.20" stroke="#f23645" stroke-width="1.25"/>
<rect x="766.13" y="163.40" width="3.60" height="3.90" fill="#f23645"/>
<line x1="772.37" y1="162.70" x2="772.37" y2="178.60" stroke="#f23645" stroke-width="1.25"/>
<rect x="770.57" y="167.20" width="3.60" height="10.80" fill="#f23645"/>
<line x1="776.81" y1="172.90" x2="776.81" y2="173.50" stroke="#089981" stroke-width="1.25"/>
<line x1="776.81" y1="178.60" x2="776.81" y2="180.50" stroke="#089981" stroke-width="1.25"/>
<rect x="775.46" y="174.15" width="2.70" height="3.80" fill="none" stroke="#089981" stroke-width="1.3"/>
<line x1="781.24" y1="156.30" x2="781.24" y2="157.60" stroke="#089981" stroke-width="1.25"/>
<rect x="779.89" y="158.25" width="2.70" height="15.30" fill="none" stroke="#089981" stroke-width="1.3"/>
<line x1="785.68" y1="145.50" x2="785.68" y2="153.80" stroke="#089981" stroke-width="1.25"/>
<line x1="785.68" y1="159.50" x2="785.68" y2="160.80" stroke="#089981" stroke-width="1.25"/>
<rect x="784.33" y="154.45" width="2.70" height="4.40" fill="none" stroke="#089981" stroke-width="1.3"/>
<line x1="790.12" y1="148.10" x2="790.12" y2="159.50" stroke="#f23645" stroke-width="1.25"/>
<rect x="788.32" y="153.80" width="3.60" height="1.30" fill="#f23645"/>
<line x1="794.56" y1="139.20" x2="794.56" y2="148.10" stroke="#089981" stroke-width="1.25"/>
<rect x="793.21" y="148.75" width="2.70" height="7.60" fill="none" stroke="#089981" stroke-width="1.3"/>
<line x1="799.00" y1="143.00" x2="799.00" y2="144.30" stroke="#089981" stroke-width="1.25"/>
<line x1="799.00" y1="149.40" x2="799.00" y2="150.60" stroke="#089981" stroke-width="1.25"/>
<rect x="797.65" y="144.95" width="2.70" height="3.80" fill="none" stroke="#089981" stroke-width="1.3"/>
<line x1="803.43" y1="124.50" x2="803.43" y2="132.70" stroke="#089981" stroke-width="1.25"/>
<rect x="802.08" y="133.35" width="2.70" height="11.50" fill="none" stroke="#089981" stroke-width="1.3"/>
<line x1="807.87" y1="126.30" x2="807.87" y2="139.00" stroke="#f23645" stroke-width="1.25"/>
<rect x="806.07" y="133.30" width="3.60" height="3.80" fill="#f23645"/>
<line x1="812.31" y1="134.50" x2="812.31" y2="146.00" stroke="#f23645" stroke-width="1.25"/>
<rect x="810.51" y="135.20" width="3.60" height="10.80" fill="#f23645"/>
<line x1="816.75" y1="139.00" x2="816.75" y2="149.20" stroke="#f23645" stroke-width="1.25"/>
<rect x="814.95" y="143.40" width="3.60" height="5.80" fill="#f23645"/>
<line x1="821.19" y1="143.40" x2="821.19" y2="162.50" stroke="#f23645" stroke-width="1.25"/>
<rect x="819.39" y="147.30" width="3.60" height="15.20" fill="#f23645"/>
<line x1="825.62" y1="155.50" x2="825.62" y2="170.20" stroke="#f23645" stroke-width="1.25"/>
<rect x="823.82" y="160.00" width="3.60" height="3.20" fill="#f23645"/>
<line x1="830.06" y1="155.50" x2="830.06" y2="174.60" stroke="#f23645" stroke-width="1.25"/>
<rect x="828.26" y="162.50" width="3.60" height="7.70" fill="#f23645"/>
<line x1="834.50" y1="155.50" x2="834.50" y2="170.20" stroke="#089981" stroke-width="1.25"/>
<rect x="832.70" y="165.00" width="3.60" height="1.30" fill="#089981"/>
<path d="M741.50 105.3 V82.4 L739.10 85.8" fill="none" stroke="#6a6d74" stroke-width="1.3" stroke-linejoin="miter"/>
<path d="M847.80 105.3 V82.4 L845.40 85.8" fill="none" stroke="#6a6d74" stroke-width="1.3" stroke-linejoin="miter"/>
<rect x="831.6" y="164.6" width="9.2" height="1.9" fill="#089981"/>
<g font-family="Liberation Sans, sans-serif"><text transform="translate(6.00,43.80) scale(0.3156,1)" font-size="27.14" font-weight="bold" fill="#131722">EURUSD · 1D · FXCM</text>
<text transform="translate(891.81,35.40) scale(0.3347,1)" font-size="25.86" font-weight="normal" fill="#474a52">1.20000</text>
<text transform="translate(891.81,151.30) scale(0.3347,1)" font-size="25.86" font-weight="normal" fill="#474a52">1.16000</text>
<text transform="translate(891.81,270.70) scale(0.3522,1)" font-size="24.57" font-weight="normal" fill="#474a52">1.12000</text>
<text transform="translate(891.81,363.70) scale(0.3384,1)" font-size="25.57" font-weight="normal" fill="#474a52">1.09000</text>
<text transform="translate(891.81,426.70) scale(0.3461,1)" font-size="25.00" font-weight="normal" fill="#474a52">1.07000</text>
<text transform="translate(891.81,490.30) scale(0.3384,1)" font-size="25.57" font-weight="normal" fill="#474a52">1.05000</text>
<text transform="translate(76.80,529.00) scale(0.3480,1)" font-size="27.43" font-weight="normal" fill="#3a3d45">Apr</text>
<text transform="translate(172.64,529.00) scale(0.3485,1)" font-size="27.43" font-weight="normal" fill="#3a3d45">May</text>
<text transform="translate(271.40,529.00) scale(0.3670,1)" font-size="27.43" font-weight="normal" fill="#3a3d45">Jun</text>
<text transform="translate(365.78,529.00) scale(0.3983,1)" font-size="27.43" font-weight="normal" fill="#3a3d45">Jul</text>
<text transform="translate(466.00,529.00) scale(0.3411,1)" font-size="27.43" font-weight="normal" fill="#3a3d45">Aug</text>
<text transform="translate(559.51,529.00) scale(0.3560,1)" font-size="27.43" font-weight="normal" fill="#3a3d45">Sep</text>
<text transform="translate(657.02,529.00) scale(0.3524,1)" font-size="27.43" font-weight="normal" fill="#3a3d45">Oct</text>
<text transform="translate(758.24,529.00) scale(0.3452,1)" font-size="27.43" font-weight="normal" fill="#3a3d45">Nov</text>
<text transform="translate(847.23,529.00) scale(0.3493,1)" font-size="27.43" font-weight="normal" fill="#3a3d45">Dec</text>
<text transform="translate(655.30,54.50) scale(0.2991,1)" font-size="32.86" font-weight="normal" fill="#7cc28f">AJFFRSI Cross</text>
<text transform="translate(731.03,54.50) scale(0.2858,1)" font-size="32.86" font-weight="normal" fill="#6a9dcb">QQE</text>
<text transform="translate(758.20,54.30) scale(0.3038,1)" font-size="32.86" font-weight="normal" fill="#4fd3a3">Keltner Zone</text>
<text transform="translate(823.10,54.30) scale(0.3043,1)" font-size="32.86" font-weight="normal" fill="#fdb47f">WaveTrend</text>
<text transform="translate(686.25,105.20) scale(0.3394,1)" font-size="33.14" font-weight="normal" fill="#6a6d74">0</text>
<text transform="translate(783.22,105.20) scale(0.3646,1)" font-size="33.14" font-weight="normal" fill="#6a6d74">0</text></g>
<rect x="885.3" y="147.5" width="42.4" height="94.5" rx="1.5" fill="#189a80"/>
<g font-family="Liberation Sans, sans-serif"><text transform="translate(891.09,174.20) scale(0.3625,1)" font-size="24.57" font-weight="normal" fill="#c9e8e0">1.15227</text>
<text transform="translate(890.98,204.60) scale(0.3467,1)" font-size="24.43" font-weight="normal" fill="#c9e8e0">+8.45%</text>
<text transform="translate(890.98,234.10) scale(0.3406,1)" font-size="24.57" font-weight="normal" fill="#c9e8e0">23:40:41</text></g>
</svg>
</body></html>
